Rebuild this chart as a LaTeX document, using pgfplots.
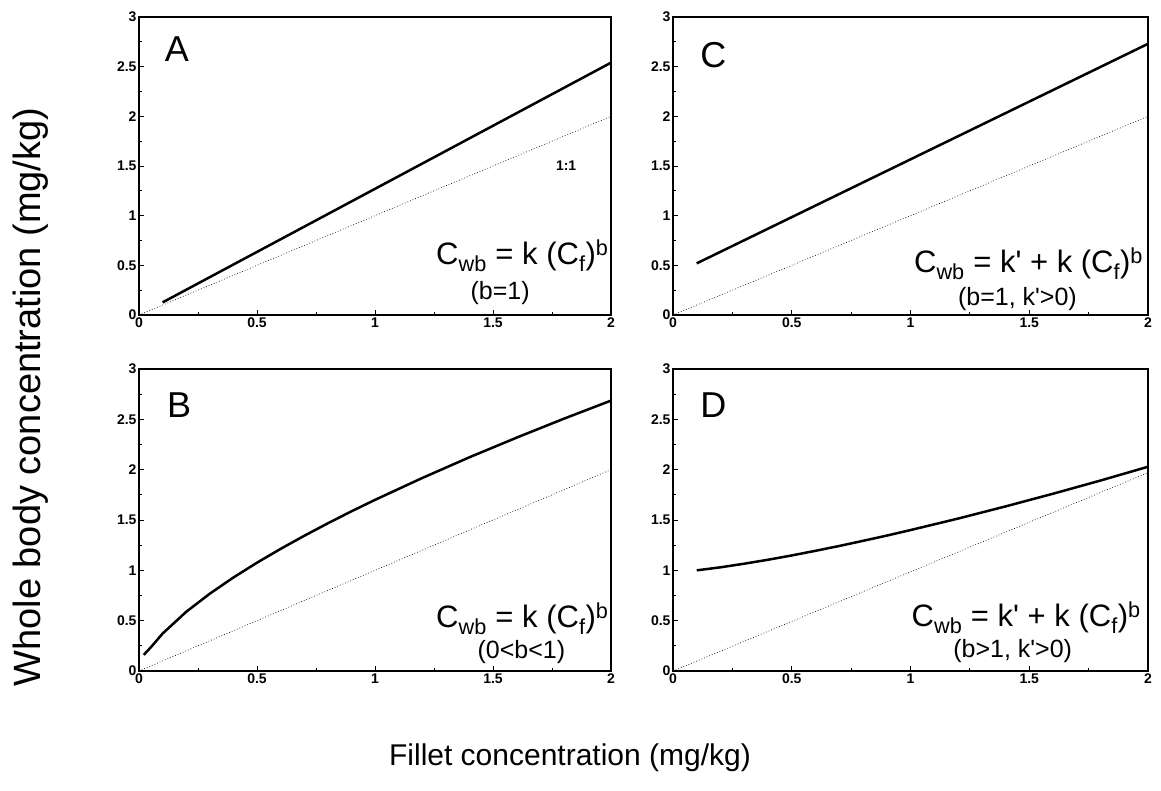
\documentclass[border=0pt]{standalone}
\usepackage{fontspec}
\setmainfont{Liberation Sans}
\usepackage{pgfplots}
\pgfplotsset{compat=1.18}
\pgfplotsset{panel/.style={
  scale only axis, anchor=south west, clip=false,
  xmin=0, xmax=2, ymin=0, ymax=3,
  xtick={0,0.5,1,1.5,2}, ytick={0,0.5,1,1.5,2,2.5,3},
  minor tick num=1, tick align=inside, tick pos=left,
  axis line style={line width=1.7pt},
  major tick length=5pt, minor tick length=3pt,
  every tick/.style={line width=0.8pt, black},
  tick label style={font=\bfseries\fontsize{14}{14}\selectfont},
  yticklabel style={xshift=1pt},
  xticklabel style={yshift=1pt},
  /pgf/number format/assume math mode=true,
}}
\newcommand{\kp}{k\textquotesingle}
\tikzset{
  letter/.style={font=\fontsize{36}{36}\selectfont},
  formula/.style={font=\fontsize{31}{31}\selectfont, anchor=east, inner sep=0pt},
  sub/.style={font=\fontsize{25}{25}\selectfont, inner sep=0pt},
  oneone/.style={black, line width=0.6pt, dash pattern=on 0.8pt off 2pt},
  curve/.style={black, line width=2.5pt}
}
\begin{document}
\begin{tikzpicture}
\path[use as bounding box] (0,0) rectangle (1161pt,790pt);
% Panel A
\begin{axis}[panel, at={(139pt,475pt)}, width=472pt, height=298pt]
\addplot[oneone] coordinates {(0,0) (2,2)};
\addplot[curve] coordinates {(0.1,0.127) (2,2.54)};
\node[letter] at (axis cs:0.16,2.68) {A};
\node[font=\bfseries\fontsize{14}{14}\selectfont] at (axis cs:1.81,1.5) {1:1};
\node[formula] at (axis cs:1.99,0.6) {C\textsubscript{wb} = k (C\textsubscript{f})\textsuperscript{b}};
\node[sub] at (axis cs:1.53,0.22) {(b=1)};
\end{axis}
% Panel C
\begin{axis}[panel, at={(673pt,475pt)}, width=475pt, height=298pt]
\addplot[oneone] coordinates {(0,0) (2,2)};
\addplot[curve] coordinates {(0.1,0.52) (2,2.73)};
\node[letter] at (axis cs:0.17,2.62) {C};
\node[formula] at (axis cs:1.98,0.52) {C\textsubscript{wb} = \kp{} + k (C\textsubscript{f})\textsuperscript{b}};
\node[sub] at (axis cs:1.45,0.16) {(b=1, \kp{}>0)};
\end{axis}
% Panel B
\begin{axis}[panel, at={(139pt,119pt)}, width=472pt, height=302pt]
\addplot[oneone] coordinates {(0,0) (2,2)};
\addplot[curve] coordinates {
(0.02,0.16) (0.05,0.235) (0.1,0.372) (0.2,0.588) (0.3,0.768) (0.4,0.929)
(0.5,1.076) (0.6,1.213) (0.7,1.343) (0.8,1.467) (0.9,1.586) (1.0,1.7)
(1.2,1.917) (1.4,2.123) (1.6,2.318) (1.8,2.506) (2.0,2.686)};
\node[letter] at (axis cs:0.17,2.64) {B};
\node[formula] at (axis cs:1.99,0.52) {C\textsubscript{wb} = k (C\textsubscript{f})\textsuperscript{b}};
\node[sub] at (axis cs:1.62,0.19) {(0<b<1)};
\end{axis}
% Panel D
\begin{axis}[panel, at={(673pt,119pt)}, width=475pt, height=302pt]
\addplot[oneone] coordinates {(0,0) (2,1.97)};
\addplot[curve] coordinates {
(0.1,1.0) (0.2,1.030) (0.3,1.066) (0.4,1.105) (0.5,1.148) (0.6,1.194)
(0.7,1.242) (0.8,1.293) (0.9,1.345) (1.0,1.4) (1.2,1.514) (1.4,1.635)
(1.6,1.761) (1.8,1.892) (2.0,2.029)};
\node[letter] at (axis cs:0.17,2.64) {D};
\node[formula] at (axis cs:1.97,0.53) {C\textsubscript{wb} = \kp{} + k (C\textsubscript{f})\textsuperscript{b}};
\node[sub] at (axis cs:1.43,0.2) {(b>1, \kp{}>0)};
\end{axis}
\node[rotate=90, font=\fontsize{38}{38}\selectfont] at (31pt,393pt) {Whole body concentration (mg/kg)};
\node[font=\fontsize{30}{30}\selectfont] at (570pt,32pt) {Fillet concentration (mg/kg)};
\end{tikzpicture}
\end{document}
